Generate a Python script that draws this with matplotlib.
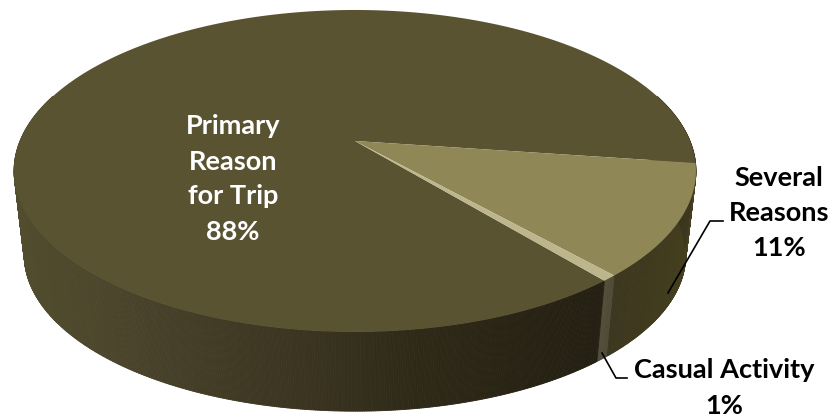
import numpy as np
import matplotlib
matplotlib.use('Agg')
import matplotlib.pyplot as plt
from matplotlib.collections import PolyCollection
from matplotlib.colors import to_rgb

# shares, clockwise from the right hand side
# (printed rounded, the thin slice is really under 1)
labels = ['Several\nReasons', 'Casual Activity', 'Primary\nReason\nfor Trip']
values = [11.2, 0.6, 88.2]
top_colors = ['#908756', '#bdb58c', '#5a5331']

start_angle = 7.9   # degrees below horizontal
tilt = 0.186        # perspective of the disc

plt.rcParams['font.family'] = ['Lato', 'DejaVu Sans']


def project(theta, scale=1.0, drop=0.0):
    # unit circle -> picture coords, near edge is drawn bigger
    u = np.cos(theta)
    v = np.sin(theta)
    w = 1 - tilt * v
    return 355 + scale * 335 * u / w, 141 + drop + scale * 155.4 * v / w


def wall_color(x, stops):
    xs = [s[0] for s in stops]
    rgb = np.array([to_rgb(s[1]) for s in stops])
    return [np.interp(x, xs, rgb[:, i]) for i in range(3)]


wall_stops = {
    0: [(610, '#3a351e'), (700, '#46401f')],
    1: [(600, '#55513b'), (612, '#4f4b37')],
    2: [(0, '#544e2f'), (150, '#47412a'), (300, '#3a3420'), (420, '#2e2917'), (600, '#231f12'), (700, '#3d3820')],
}

fig = plt.figure(figsize=(8.33, 4.16), dpi=100, facecolor='white')
ax = fig.add_axes([0, 0, 1, 1])
ax.set_xlim(0, 833)
ax.set_ylim(416, 0)
ax.axis('off')

edges = start_angle + np.cumsum([0] + values) * 3.6

# side wall first, the top covers whatever faces away
quads = []
colors = []
for i in range(len(values)):
    a0, a1 = np.radians(edges[i]), np.radians(edges[i + 1])
    n = max(int((a1 - a0) * 180), 3)
    th = np.linspace(a0, a1, n)
    x1, y1 = project(th)
    x2, y2 = project(th, 0.97, 85)
    for j in range(n - 1):
        if np.sin(th[j]) < -0.3 and np.sin(th[j + 1]) < -0.3:
            continue
        quads.append([(x1[j], y1[j]), (x1[j + 1], y1[j + 1]), (x2[j + 1], y2[j + 1]), (x2[j], y2[j])])
        colors.append(wall_color((x1[j] + x1[j + 1]) / 2, wall_stops[i]))
ax.add_collection(PolyCollection(quads, facecolors=colors, edgecolors=colors, linewidths=0.6, zorder=1))

# top of the pie
for i in [2, 0, 1]:
    th = np.radians(np.linspace(edges[i], edges[i + 1], 300))
    x, y = project(th)
    cx, cy = project(np.array([0.0]), 0.0)
    ax.fill(np.r_[cx, x], np.r_[cy, y], color=top_colors[i], lw=0, zorder=2)

# leader lines
ax.plot([668, 710, 723], [293, 221, 221], color='black', lw=1.2, zorder=3)
ax.plot([602, 616, 627], [353, 378, 378], color='black', lw=1.2, zorder=3)

ax.text(233, 179, labels[2] + '\n%.0f%%' % values[2], color='white', fontsize=19.5, fontweight='bold',
        ha='center', va='center', linespacing=1.55, zorder=4)
ax.text(779, 213, labels[0] + '\n%.0f%%' % values[0], color='black', fontsize=19.5, fontweight='bold',
        ha='center', va='center', linespacing=1.55, zorder=4)
ax.text(724, 388, labels[1] + '\n%.0f%%' % values[1], color='black', fontsize=19.5, fontweight='bold',
        ha='center', va='center', linespacing=1.55, zorder=4)

fig.savefig('out.png', dpi=100, facecolor='white')
